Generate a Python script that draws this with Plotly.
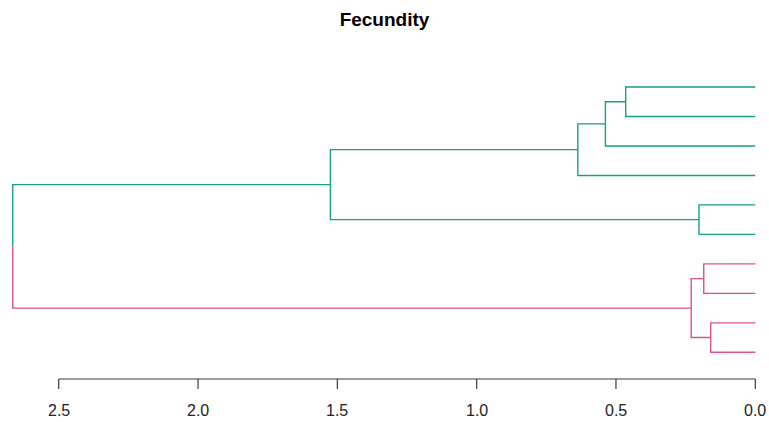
import plotly.graph_objects as go

# Hierarchical clustering result (R-style merge table): negative = leaf, positive = earlier merge
merge_left = [-1, 1, 2, -5, 3, -7, -9, 6, 5]
merge_right = [-2, -3, -4, -6, 4, -8, -10, 7, 8]
merge_height = [0.465, 0.538, 0.637, 0.202, 1.525, 0.185, 0.160, 0.230, 2.665]

# Leaf order from top to bottom and cluster membership
leaf_order = [1, 2, 3, 4, 5, 6, 7, 8, 9, 10]
leaf_cluster = [1, 1, 1, 1, 1, 1, 2, 2, 2, 2]
cluster_colors = {1: "#18A086", 2: "#DA5679"}

tick_values = [2.5, 2.0, 1.5, 1.0, 0.5, 0.0]
tick_labels = ["2.5", "2.0", "1.5", "1.0", "0.5", "0.0"]
title_text = "Fecundity"

leaf_pos = {leaf: i + 1 for i, leaf in enumerate(leaf_order)}


def node_info(ref):
    """Return (y midpoint, height, cluster or None) of a leaf or merge node."""
    if ref < 0:
        leaf = -ref
        return leaf_pos[leaf], 0.0, leaf_cluster[leaf - 1]
    k = ref - 1
    yl, _, cl = node_info(merge_left[k])
    yr, _, cr = node_info(merge_right[k])
    cluster = cl if cl == cr else None
    return (yl + yr) / 2, merge_height[k], cluster


segments = {1: ([], []), 2: ([], [])}
for k in range(len(merge_height)):
    y_mid, h, _ = node_info(k + 1)
    for child in (merge_left[k], merge_right[k]):
        cy, ch, cc = node_info(child)
        xs, ys = segments[cc]
        # vertical piece at the parent height, then horizontal to the child
        xs.extend([h, h, ch, None])
        ys.extend([y_mid, cy, cy, None])

fig = go.Figure()
for cl, (xs, ys) in segments.items():
    fig.add_trace(go.Scatter(
        x=xs, y=ys, mode="lines",
        line=dict(color=cluster_colors[cl], width=1.4),
        hoverinfo="skip", showlegend=False,
    ))

# Bottom axis drawn R-style: line only across the tick span
axis_y = 10.905
tick_end = 11.244
label_y = 11.984
ax_x = [min(tick_values), max(tick_values), None]
ax_y = [axis_y, axis_y, None]
for t in tick_values:
    ax_x.extend([t, t, None])
    ax_y.extend([axis_y, tick_end, None])
fig.add_trace(go.Scatter(
    x=ax_x, y=ax_y, mode="lines",
    line=dict(color="#3a3a3a", width=1.2),
    hoverinfo="skip", showlegend=False,
))
for t, lab in zip(tick_values, tick_labels):
    fig.add_annotation(
        x=t, y=label_y, text=lab, showarrow=False,
        xanchor="center", yanchor="middle",
        font=dict(family="Liberation Sans, Arial, sans-serif", size=16, color="#222222"),
    )

fig.update_layout(
    width=769, height=422,
    margin=dict(l=0, r=0, t=0, b=0),
    paper_bgcolor="white", plot_bgcolor="white",
    title=dict(
        text="<b>" + title_text + "</b>",
        x=0.5, xanchor="center", y=1 - 19.0 / 422, yanchor="middle",
        font=dict(family="Liberation Sans, Arial, sans-serif", size=19, color="#000000"),
    ),
    xaxis=dict(range=[2.7107, -0.0492], visible=False, fixedrange=True),
    yaxis=dict(range=[12.364, -1.951], visible=False, fixedrange=True),
)

fig.write_html("out.html")
